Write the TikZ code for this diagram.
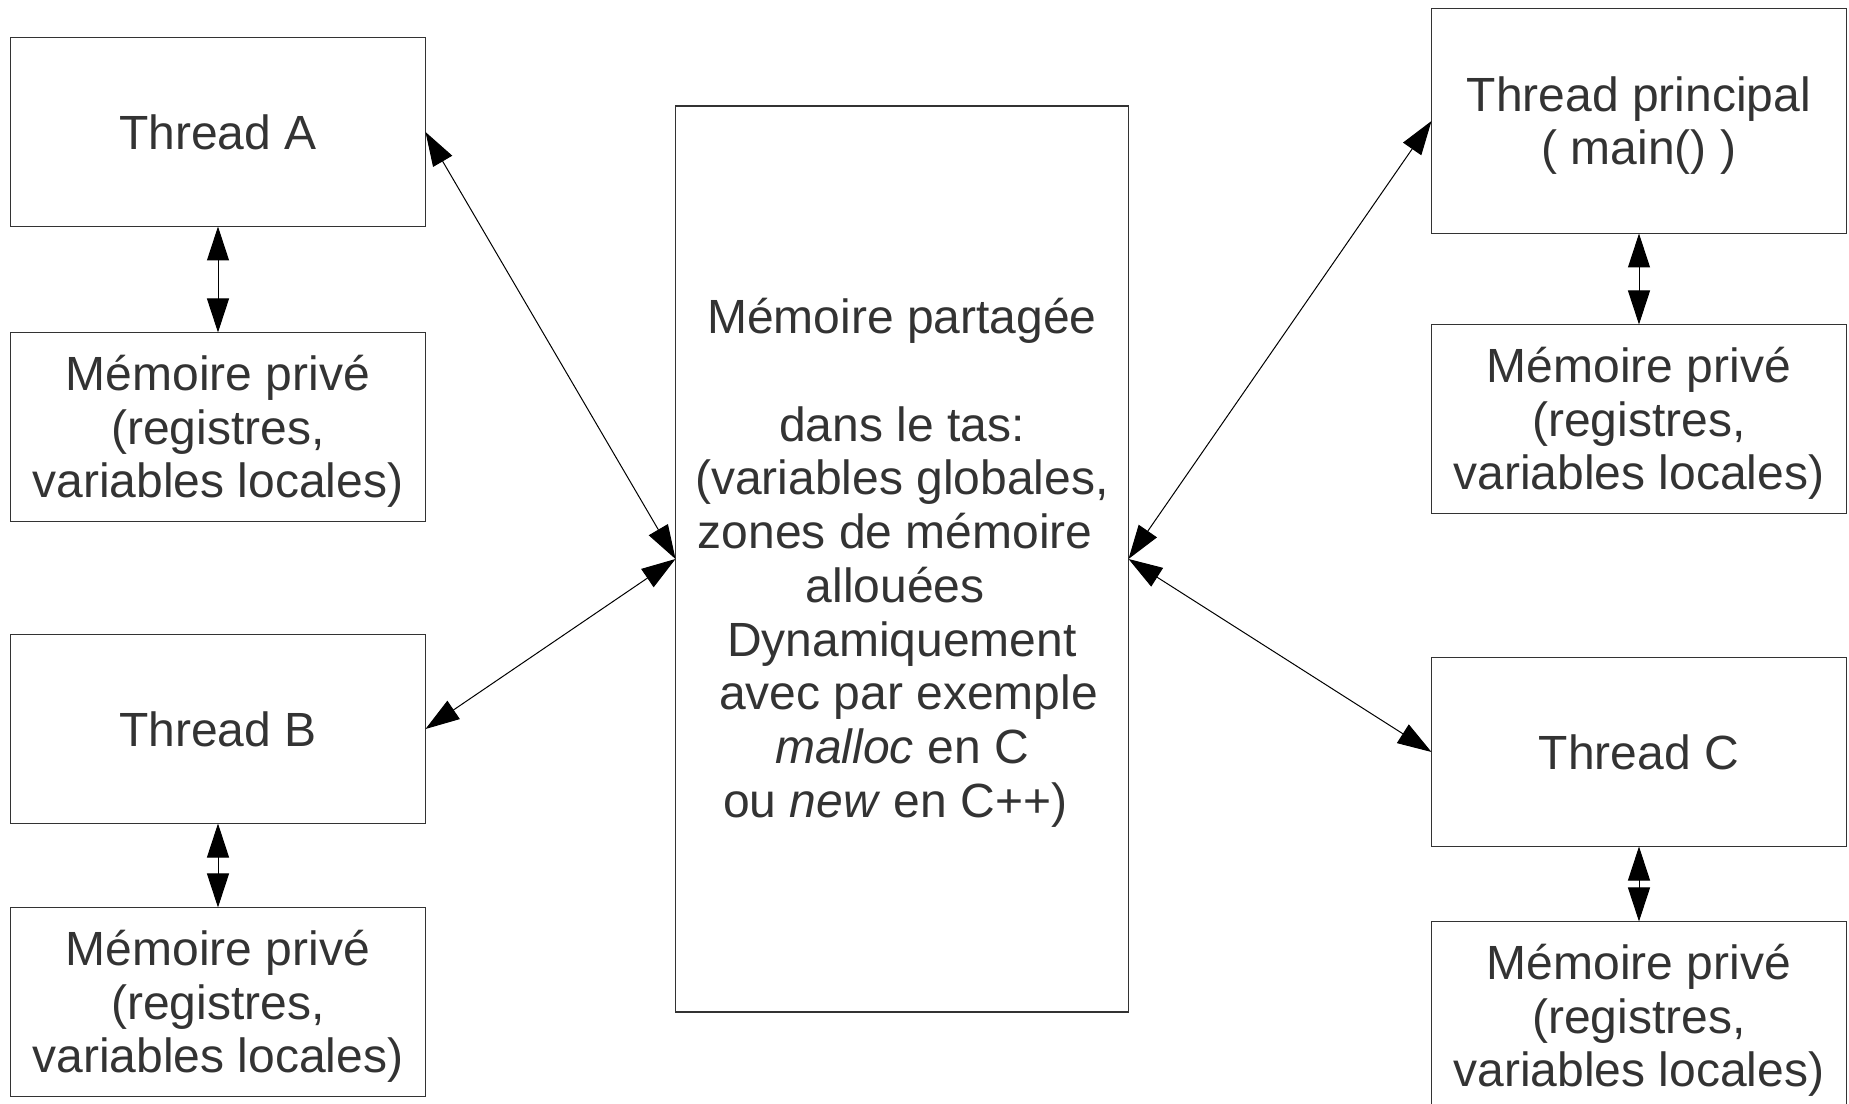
\documentclass[tikz,border=0pt]{standalone}
\usepackage{fontspec}
\setmainfont{Liberation Sans}
\usetikzlibrary{arrows.meta}
\definecolor{txt}{HTML}{333333}
\tikzset{
  box/.style={draw=black!80, line width=0.45pt, rectangle, inner sep=0pt, outer sep=0pt},
  side/.style={box, minimum width=166pt, minimum height=75.6pt},
  lbl/.style={inner sep=0pt, text=txt, align=center, font=\fontsize{19.2}{21.5}\selectfont},
  link/.style={line width=0.4pt, {Triangle[length=13.6pt,width=8.8pt]}-{Triangle[length=13.6pt,width=8.8pt]}}
}
\begin{document}
\begin{tikzpicture}[x=0.4pt, y=-0.4pt]
  \clip (0,0) rectangle (1849,1104);
  \useasboundingbox (0,0) rectangle (1849,1104);

  % left column
  \node[side] (thA)  at (218,132)  {};
  \node[side] (memA) at (218,427)  {};
  \node[side] (thB)  at (218,729)  {};
  \node[side] (memB) at (218,1002) {};
  \node[lbl] (thAtxt)  at (thA.center) {Thread A};
  \node[lbl] (memAtxt) at ([yshift=-1.8pt]memA.center) {Mémoire privé\\(registres,\\variables locales)};
  \node[lbl] (thBtxt)  at (thB.center) {Thread B};
  \node[lbl] (memBtxt) at ([yshift=-1.8pt]memB.center) {Mémoire privé\\(registres,\\variables locales)};

  % shared memory
  \node[box, minimum width=181.2pt, minimum height=362.4pt] (shared) at (902,559) {};
  \node[lbl] (sharedtxt) at ([yshift=-1.5pt]shared.center)
    {Mémoire partagée\\[21.5pt]
     dans le tas:\\
     (variables globales,\\
     \mbox{zones de mémoire }\\
     \mbox{allouées }\\
     Dynamiquement\\
     \mbox{ avec par exemple}\\
     \textit{malloc} en C\\
     \mbox{ou \textit{new} en C++) }};

  % right column
  \node[side, minimum height=90pt] (thP) at (1639,121) {};
  \node[side] (memP) at (1639,419)  {};
  \node[side] (thC)  at (1639,752)  {};
  \node[side] (memC) at (1639,1016) {};
  \node[lbl] (thPtxt)  at ([yshift=-1.8pt]thP.center) {Thread principal\\( main() )};
  \node[lbl] (memPtxt) at ([yshift=-1.8pt]memP.center) {Mémoire privé\\(registres,\\variables locales)};
  \node[lbl] (thCtxt)  at (thC.center) {Thread C};
  \node[lbl] (memCtxt) at ([yshift=-1.8pt]memC.center) {Mémoire privé\\(registres,\\variables locales)};

  % thread <-> private memory
  \draw[link] (thA.south) -- (memA.north);
  \draw[link] (thB.south) -- (memB.north);
  \draw[link] (thP.south) -- (memP.north);
  \draw[link] (thC.south) -- (memC.north);

  % thread <-> shared memory
  \draw[link] (thA.east) -- (shared.west);
  \draw[link] (thB.east) -- (shared.west);
  \draw[link] (thP.west) -- (shared.east);
  \draw[link] (thC.west) -- (shared.east);
\end{tikzpicture}
\end{document}
